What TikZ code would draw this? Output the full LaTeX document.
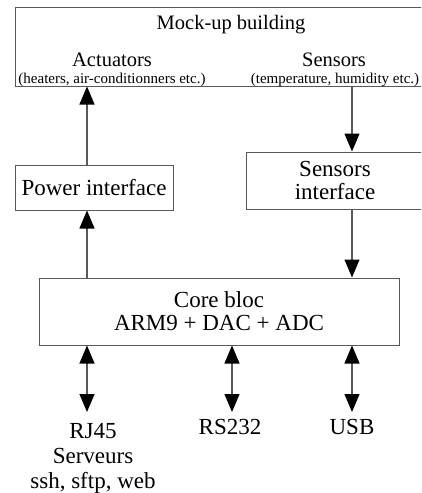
\documentclass[tikz,border=0pt]{standalone}
\usepackage{fontspec}
\setmainfont{Liberation Serif}
\usetikzlibrary{arrows.meta, positioning}
\tikzset{
  box/.style = {draw=black!65, line width=1pt, inner sep=0pt, align=center,
    font=\fontsize{23}{23}\selectfont},
  bigtxt/.style = {inner sep=0pt, align=center, font=\fontsize{23}{25}\selectfont},
  toptxt/.style = {inner sep=0pt, anchor=base, font=\fontsize{20.5}{22}\selectfont},
  smalltxt/.style = {inner sep=0pt, anchor=base, font=\fontsize{15}{17}\selectfont},
  link/.style = {draw=black!65, line width=1.2pt,
    -{Triangle[width=15pt,length=18pt,color=black]}},
  dlink/.style = {link, {Triangle[width=15pt,length=18pt,color=black]}-{Triangle[width=15pt,length=18pt,color=black]}},
}

\begin{document}
\begin{tikzpicture}[x=1pt, y=-1pt]
\clip (0,0) rectangle (421,493);

% building and its parts
\node [box, minimum width=432pt, minimum height=79pt] (mockup) at (231,46.5) {};
\node [toptxt] (title) at (231,29) {Mock-up building};
\node [toptxt] (act) at (112,66) {Actuators};
\node [smalltxt] (actinfo) at (112,83.5) {(heaters, air-conditionners etc.)};
\node [toptxt] (sens) at (334,66) {Sensors};
\node [smalltxt] (sensinfo) at (335,83.5) {(temperature, humidity etc.)};

% interfaces and core
\node [box, minimum width=158pt, minimum height=45pt] (power) at (94,187.5) {Power interface};
\node [box, minimum width=178pt, minimum height=57pt] (sensif) at (335,180.5) {Sensors\\interface};
\node [box, minimum width=360pt, minimum height=67pt] (core) at (219,311.5) {Core bloc\\ARM9 + DAC + ADC};

% outputs
\node [bigtxt] (rj45) at (93,458) {RJ45\\Serveurs\\ssh, sftp, web};
\node [bigtxt] (rs232) at (230,427) {RS232};
\node [bigtxt] (usb) at (352,427) {USB};

\coordinate (colA) at (87,0);
\coordinate (colB) at (232,0);
\coordinate (colC) at (352,0);
\coordinate (rjend) at (87,412);
\coordinate (rsend) at (232,412);
\coordinate (usbend) at (352,412);

\draw [link] (core.north -| colA) -- (power.south -| colA);
\draw [link] (power.north -| colA) -- (mockup.south -| colA);
\draw [link] (mockup.south -| colC) -- (sensif.north -| colC);
\draw [link] (sensif.south -| colC) -- (core.north -| colC);

\draw [dlink] (core.south -| colA) -- (rjend);
\draw [dlink] (core.south -| colB) -- (rsend);
\draw [dlink] (core.south -| colC) -- (usbend);
\end{tikzpicture}
\end{document}
